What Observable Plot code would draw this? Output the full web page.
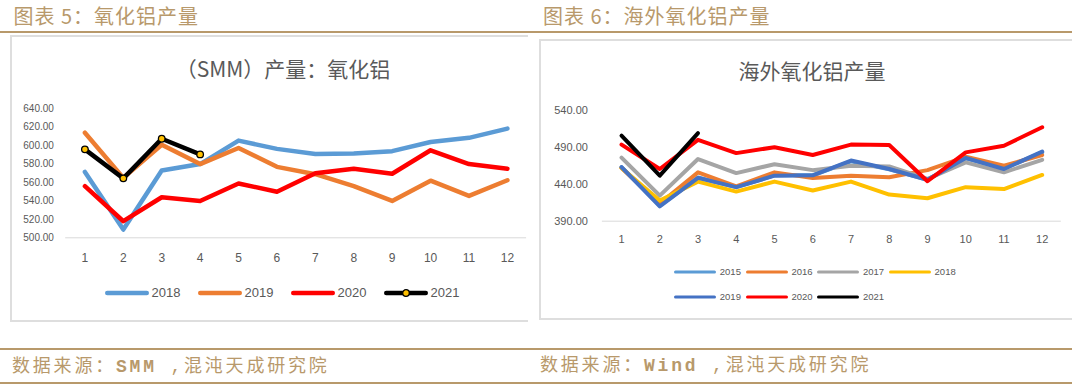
<!DOCTYPE html>
<html><head><meta charset="utf-8">
<script src="https://cdn.jsdelivr.net/npm/d3@7"></script>
<script src="https://cdn.jsdelivr.net/npm/@observablehq/plot@0.6"></script>
<style>
body{margin:0;width:1080px;height:384px;position:relative;background:#fff;overflow:hidden;font-family:"Noto Sans CJK SC",sans-serif}
.abs{position:absolute}
.hdr{color:#b8996b;font-size:20px;line-height:20px;letter-spacing:1px;white-space:nowrap}
.ftr{color:#b8996b;font-size:18px;line-height:18px;letter-spacing:2.8px;white-space:nowrap;font-family:"Liberation Mono","Noto Sans CJK SC",monospace}
.ftr b{font-weight:bold}
.tline{background:#b8996b;height:2px;left:0;width:1072px}
.title{color:#595959;font-size:21px;line-height:21px;white-space:nowrap;transform:translateX(-50%)}
.box{border-left:2px solid #dedede;border-top:2px solid #dedede;border-bottom:2px solid #dedede;box-sizing:border-box}
.leg{display:flex;align-items:center;font-family:"Liberation Sans",sans-serif;color:#595959}
.leg .it{display:flex;align-items:center}
.plotwrap{width:540px;height:280px;top:0}
.plotwrap svg{width:540px;height:280px;max-width:none}
</style></head><body>
<script>
// ---------- data ----------
const months = [1,2,3,4,5,6,7,8,9,10,11,12];

// Chart 5: (SMM) 产量: 氧化铝
const smmYears = ["2018","2019","2020","2021"];
const smmColors = ["#5B9BD5","#ED7D31","#FF0000","#000000"];
const smm2018 = [571.5, 509, 573, 580, 605.5, 596.5, 591, 591.5, 594, 604, 608.5, 618.5];
const smm2019 = [614, 565, 601, 580, 597.5, 577, 569, 556, 540, 562, 545.5, 562.5];
const smm2020 = [556, 518, 544, 540, 559, 550, 570, 575, 569.5, 595, 580, 575];
const smm2021 = [596, 564.5, 607.5, 590.5];
const smmTicks = [500,520,540,560,580,600,620,640];

// Chart 6: 海外氧化铝产量
const ovYears = ["2015","2016","2017","2018","2019","2020","2021"];
const ovColors = ["#5B9BD5","#ED7D31","#A5A5A5","#FFC000","#4472C4","#FF0000","#000000"];
const ov2015 = [463, 411, 449, 436, 452, 452, 471, 460, 446, 475, 461, 483];
const ov2016 = [462, 414, 456, 437, 456, 448.5, 451.5, 449.5, 459, 477, 465, 479.5];
const ov2017 = [476, 424.5, 474, 455, 467, 459, 465, 464, 447, 469.5, 456, 473];
const ov2018 = [462, 418, 443.5, 430, 443.5, 431.5, 443.5, 426, 421, 436, 433.5, 452.5];
const ov2019 = [463, 410, 448.5, 436, 451.5, 452, 472, 460.5, 446, 475.5, 460.5, 484];
const ov2020 = [493.5, 460.5, 500, 482, 490, 479.5, 493.5, 493, 444, 483, 492, 517];
const ov2021 = [505.5, 451.5, 509];
const ovTicks = [390,440,490,540];

// ---------- build tables ----------
function table(years, seriesList){
  const out = [];
  years.forEach((yr, k) => seriesList[k].forEach((v, i) => out.push({year: yr, m: months[i], v})));
  return out;
}
const leftData = table(smmYears, [smm2018, smm2019, smm2020, smm2021]);
const rightData = table(ovYears, [ov2015, ov2016, ov2017, ov2018, ov2019, ov2020, ov2021]);

function el(html){ const d=document.createElement("div"); d.innerHTML=html; const n=d.firstElementChild; document.body.appendChild(n); return n; }

// ---------- frame (headers, boxes, footers) ----------
el('<div class="abs tline" style="top:31.3px"></div>');
el('<div class="abs tline" style="top:348px"></div>');
el('<div class="abs tline" style="top:381.5px"></div>');
el('<div class="abs hdr" style="left:13.5px;top:6px">图表 5：氧化铝产量</div>');
el('<div class="abs hdr" style="left:543px;top:6px">图表 6：海外氧化铝产量</div>');
el('<div class="abs ftr" style="left:12px;top:357.5px">数据来源：<b>SMM</b> ,混沌天成研究院</div>');
el('<div class="abs ftr" style="left:540px;top:357px">数据来源：<b>Wind</b> ,混沌天成研究院</div>');
el('<div class="abs box" style="left:10px;top:35px;width:518px;height:287px"></div>');
el('<div class="abs box" style="left:539px;top:39px;width:533px;height:281px"></div>');
el('<div class="abs title" style="left:283px;top:57.5px">（SMM）产量：氧化铝</div>');
el('<div class="abs title" style="left:812px;top:59.5px">海外氧化铝产量</div>');

// ---------- plots ----------
const axisStyle = {color:"#595959", background:"transparent", fontFamily:"'Liberation Sans', sans-serif", overflow:"visible"};

const left = Plot.plot({
  width: 540, height: 280,
  marginLeft: 65.2, marginRight: 540 - 526.1, marginTop: 108.3, marginBottom: 280 - 237.3,
  x: {domain: [0.5, 12.5], label: null},
  y: {domain: [500, 640], label: null},
  color: {domain: smmYears, range: smmColors},
  style: axisStyle,
  marks: [
    Plot.ruleY([500], {stroke: "#d9d9d9", strokeWidth: 1}),
    Plot.axisY({ticks: smmTicks, tickFormat: d => d.toFixed(2), tickSize: 0, tickPadding: 11.8, fontSize: 10}),
    Plot.axisX({ticks: months, tickFormat: d => String(d), tickSize: 0, tickPadding: 15.2, fontSize: 12}),
    Plot.line(leftData, {x: "m", y: "v", z: "year", stroke: "year", strokeWidth: 4.5, strokeLinejoin: "round", strokeLinecap: "round"}),
    Plot.dot(leftData.filter(d => d.year === "2021"), {x: "m", y: "v", r: 3.3, fill: "#FFC000", stroke: "#000", strokeWidth: 1.3})
  ]
});
const lw = el('<div class="abs plotwrap" style="left:0px"></div>');
lw.appendChild(left);

const right = Plot.plot({
  width: 540, height: 280,
  marginLeft: 61.9, marginRight: 540 - 520.8, marginTop: 109.7, marginBottom: 280 - 220.7,
  x: {domain: [0.5, 12.5], label: null},
  y: {domain: [390, 540], label: null},
  color: {domain: ovYears, range: ovColors},
  style: axisStyle,
  marks: [
    Plot.ruleY([390], {stroke: "#d9d9d9", strokeWidth: 1}),
    Plot.axisY({ticks: ovTicks, tickFormat: d => d.toFixed(2), tickSize: 0, tickPadding: 14.5, fontSize: 11}),
    Plot.axisX({ticks: months, tickFormat: d => String(d), tickSize: 0, tickPadding: 13.7, fontSize: 11}),
    Plot.line(rightData, {x: "m", y: "v", z: "year", stroke: "year", strokeWidth: 4, strokeLinejoin: "round", strokeLinecap: "round"})
  ]
});
const rw = el('<div class="abs plotwrap" style="left:540px"></div>');
rw.appendChild(right);

// ---------- legends ----------
function swatch(color, w, sw, dot){
  return `<svg width="${w}" height="10" style="display:block;overflow:visible"><line x1="${sw/2}" y1="5" x2="${w-sw/2}" y2="5" stroke="${color}" stroke-width="${sw}" stroke-linecap="round"/>` +
    (dot ? `<circle cx="${w/2}" cy="5" r="3.3" fill="#FFC000" stroke="#000" stroke-width="1.3"/>` : "") + `</svg>`;
}
let lh = '<div class="abs leg" style="left:105px;top:285.7px;height:14px;font-size:13px">';
smmYears.forEach((y, i) => {
  lh += `<div class="it" style="width:93px">${swatch(smmColors[i], 44, 4.5, y === "2021")}<span style="margin-left:2.5px">${y}</span></div>`;
});
lh += '</div>';
el(lh);

function ovRow(startIdx, count, top){
  let h = `<div class="abs leg" style="left:674.3px;top:${top}px;height:12px;font-size:9.5px">`;
  for (let i = startIdx; i < startIdx + count; i++){
    h += `<div class="it" style="width:71.6px">${swatch(ovColors[i], 42, 3, false)}<span style="margin-left:3.5px">${ovYears[i]}</span></div>`;
  }
  h += '</div>';
  el(h);
}
ovRow(0, 4, 265.7);
ovRow(4, 3, 290.7);
</script>
</body></html>
